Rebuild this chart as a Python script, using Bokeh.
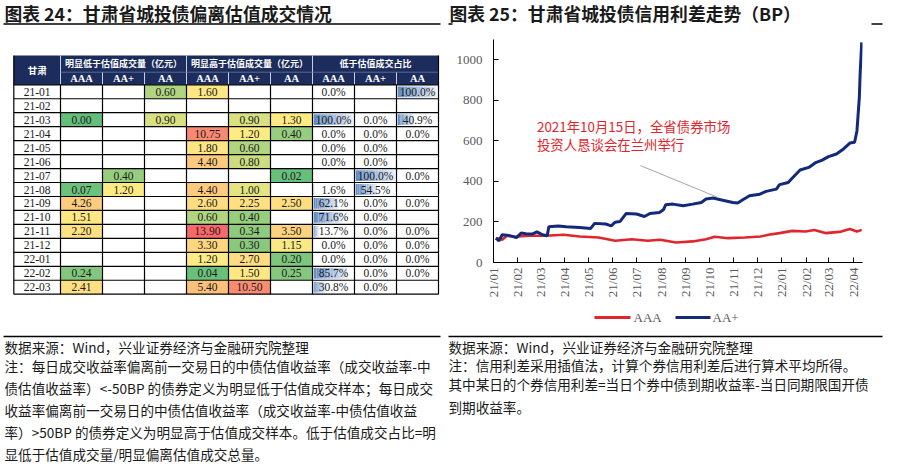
import numpy as np
import pandas as pd
from bokeh.plotting import figure
from bokeh.models import Range1d, FixedTicker, DatetimeTickFormatter, ColumnDataSource
from bokeh.layouts import row, column
from bokeh.embed import file_html
from bokeh.resources import INLINE
from bokeh.core.properties import value

# ---------------- data: table (chart 24) ----------------
months = ["21-01", "21-02", "21-03", "21-04", "21-05", "21-06", "21-07", "21-08",
          "21-09", "21-10", "21-11", "21-12", "22-01", "22-02", "22-03"]
low_AAA = [None, None, 0.00, None, None, None, None, 0.07, 4.26, 1.51, 2.20, None, None, 0.24, 2.41]
low_AAp = [None, None, None, None, None, None, 0.40, 1.20, None, None, None, None, None, None, None]
low_AA = [0.60, None, 0.90, None, None, None, None, None, None, None, None, None, None, None, None]
high_AAA = [1.60, None, None, 10.75, 1.80, 4.40, None, 4.40, 2.60, 0.60, 13.90, 3.30, 1.20, 0.04, 5.40]
high_AAp = [None, None, 0.90, 1.20, 0.60, 0.80, None, 1.00, 2.25, 0.40, 0.34, 0.30, 2.70, 1.50, 10.50]
high_AA = [None, None, 1.30, 0.40, None, None, 0.02, None, 2.50, None, 3.50, 1.15, 0.20, 0.25, None]
pct_AAA = [0.0, None, 100.0, 0.0, 0.0, 0.0, None, 1.6, 62.1, 71.6, 13.7, 0.0, 0.0, 85.7, 30.8]
pct_AAp = [None, None, 0.0, 0.0, 0.0, 0.0, 100.0, 54.5, 0.0, 0.0, 0.0, 0.0, 0.0, 0.0, 0.0]
pct_AA = [100.0, None, 40.9, 0.0, None, None, 0.0, None, 0.0, None, 0.0, 0.0, 0.0, 0.0, None]
corner_label = "甘肃"
group_titles = ["明显低于估值成交量（亿元）", "明显高于估值成交量（亿元）", "低于估值成交占比"]
grades = ["AAA", "AA+", "AA"]

# ---------------- data: spread lines (chart 25) ----------------
aaa_dates = ["2021-01-04", "2021-01-08", "2021-01-12", "2021-01-18", "2021-01-28", "2021-02-15",
             "2021-03-08", "2021-03-31", "2021-04-20", "2021-05-14", "2021-06-04", "2021-06-25",
             "2021-07-15", "2021-07-31", "2021-08-20", "2021-09-10", "2021-09-27", "2021-10-08",
             "2021-10-25", "2021-11-15", "2021-12-05", "2021-12-15", "2021-12-29", "2022-01-14",
             "2022-01-31", "2022-02-11", "2022-02-25", "2022-03-15", "2022-03-28", "2022-04-06",
             "2022-04-12"]
aaa_vals = [120, 118, 112, 132, 127, 132, 132, 137, 128, 123, 107, 115, 107, 112, 99, 104, 115,
            127, 120, 123, 128, 137, 145, 156, 153, 160, 145, 151, 165, 153, 161]
aap_dates = ["2021-01-04", "2021-01-08", "2021-01-12", "2021-01-18", "2021-01-24", "2021-01-30",
             "2021-02-05", "2021-02-11", "2021-02-19", "2021-02-25", "2021-03-04", "2021-03-10",
             "2021-03-12", "2021-03-24", "2021-04-03", "2021-04-20", "2021-05-04", "2021-05-09",
             "2021-05-23", "2021-05-30", "2021-06-04", "2021-06-10", "2021-06-18", "2021-07-01",
             "2021-07-11", "2021-07-18", "2021-07-30", "2021-08-04", "2021-08-07", "2021-08-16",
             "2021-08-29", "2021-09-10", "2021-09-21", "2021-09-27", "2021-10-06", "2021-10-18",
             "2021-10-31", "2021-11-06", "2021-11-12", "2021-11-21", "2021-12-04", "2021-12-12",
             "2021-12-25", "2021-12-29", "2022-01-09", "2022-01-13", "2022-01-24", "2022-02-04",
             "2022-02-12", "2022-02-21", "2022-03-01", "2022-03-11", "2022-03-20", "2022-03-28",
             "2022-04-03", "2022-04-06", "2022-04-09", "2022-04-10", "2022-04-12"]
aap_vals = [120, 107, 137, 135, 130, 123, 145, 142, 140, 151, 137, 132, 176, 180, 176, 173, 168,
            193, 190, 181, 199, 202, 242, 239, 227, 242, 247, 260, 285, 288, 280, 288, 296, 313,
            318, 307, 296, 293, 308, 329, 337, 351, 362, 384, 395, 412, 456, 469, 491, 505, 522,
            535, 560, 589, 593, 650, 815, 930, 1086]
series_names = ["AAA", "AA+"]
y_ticks = [0, 200, 400, 600, 800, 1000]
x_tick_start, x_tick_end = "2021-01-01", "2022-04-01"
annot_lines = ["2021年10月15日，全省债券市场", "投资人恳谈会在兰州举行"]

title_left = "图表 24：甘肃省城投债偏离估值成交情况"
title_right = "图表 25：甘肃省城投债信用利差走势（BP）"
notes_left = ["数据来源：Wind，兴业证券经济与金融研究院整理",
              "注：每日成交收益率偏离前一交易日的中债估值收益率（成交收益率-中",
              "债估值收益率）<-50BP 的债券定义为明显低于估值成交样本；每日成交",
              "收益率偏离前一交易日的中债估值收益率（成交收益率-中债估值收益",
              "率）>50BP 的债券定义为明显高于估值成交样本。低于估值成交占比=明",
              "显低于估值成交量/明显偏离估值成交总量。"]
notes_right = ["数据来源：Wind，兴业证券经济与金融研究院整理",
               "注：信用利差采用插值法，计算个券信用利差后进行算术平均所得。",
               "其中某日的个券信用利差=当日个券中债到期收益率-当日同期限国开债",
               "到期收益率。"]

# ---------------- styles ----------------
CJK = value("Noto Sans CJK SC")
SERIF = value("Liberation Serif")
INK = "#1a1a1a"
NAVY_HEAD = "#1c2c5c"
RED = "#e0262c"
NAVY = "#13297a"
GRAY = "#595959"
GREEN_C, YELLOW_C, RED_C = (99, 190, 123), (255, 235, 132), (248, 105, 107)
BAR_C = (99, 142, 198)

PAGE_W, PAGE_H = 889, 469
SPLIT_X = 447          # left / right panels
TOP_Y, BOT_Y = 39, 305  # header band / body band / footer band


def canvas(w, h, x0, x1, y0, y1):
    p = figure(width=w, height=h, x_range=Range1d(x0, x1), y_range=Range1d(y1, y0),
               output_backend="svg", toolbar_location=None, x_axis_location=None,
               y_axis_location=None, min_border=0, outline_line_color=None,
               background_fill_color="white", border_fill_color="white")
    p.grid.visible = False
    return p


def txt(p, xs, ys, texts, font, size, color=INK, align="left", bold=False):
    p.text(x=xs, y=ys, text=texts, text_font=font, text_font_size=size, text_color=color,
           text_align=align, text_baseline="middle",
           text_font_style="bold" if bold else "normal")


# ================= header band (both titles) =================
HB = canvas(PAGE_W, TOP_Y, 0, PAGE_W, 0, TOP_Y)
txt(HB, [4, 449], [12.5, 12.5], [title_left, title_right], CJK, "17.8px", bold=True)
HB.segment(x0=[3, 448, 871], y0=[23.5, 23.5, 23.5], x1=[440, 452, 882], y1=[23.5, 23.5, 23.5],
           line_color="black", line_width=1.5)

# ================= body band left: table =================
L = canvas(SPLIT_X, BOT_Y - TOP_Y, 0, SPLIT_X, TOP_Y, BOT_Y)

TL, FIRST_W, CELL_W = 13.3, 46.7, 42.0
HEAD_TOP, HEAD_MID, BODY_TOP, ROW_H = 55.0, 71.7, 84.3, 13.96
edges = [TL, TL + FIRST_W] + [TL + FIRST_W + CELL_W * (i + 1) for i in range(9)]
n_rows = len(months)
body_bot = BODY_TOP + n_rows * ROW_H
row_c = [BODY_TOP + (i + 0.5) * ROW_H for i in range(n_rows)]

L.quad(left=[edges[0]], right=[edges[-1]], top=[HEAD_TOP], bottom=[BODY_TOP],
       fill_color=NAVY_HEAD, line_color=None)
sep_x0, sep_y0, sep_x1, sep_y1 = [], [], [], []
for g in range(3):
    xg = edges[1 + 3 * g]
    sep_x0.append(xg); sep_x1.append(xg); sep_y0.append(HEAD_TOP); sep_y1.append(BODY_TOP)
    for s in range(1, 3):
        xs = edges[1 + 3 * g + s]
        sep_x0.append(xs); sep_x1.append(xs); sep_y0.append(HEAD_MID); sep_y1.append(BODY_TOP)
L.segment(x0=sep_x0, y0=sep_y0, x1=sep_x1, y1=sep_y1, line_color="#c8d0e0", line_width=1)
L.segment(x0=[edges[1]], y0=[HEAD_MID], x1=[edges[-1]], y1=[HEAD_MID], line_color="#6a7aa0",
          line_width=0.8)
txt(L, [(edges[0] + edges[1]) / 2], [(HEAD_TOP + BODY_TOP) / 2], [corner_label], CJK, "9.5px",
    color="white", align="center", bold=True)
txt(L, [(edges[1 + 3 * g] + edges[4 + 3 * g]) / 2 for g in range(3)],
    [(HEAD_TOP + HEAD_MID) / 2] * 3, group_titles, CJK, "9px", color="white", align="center",
    bold=True)
txt(L, [(edges[1 + k] + edges[2 + k]) / 2 for k in range(9)], [(HEAD_MID + BODY_TOP) / 2] * 9,
    grades * 3, SERIF, "10.5px", color="white", align="center", bold=True)

value_cols = [low_AAA, low_AAp, low_AA, high_AAA, high_AAp, high_AA]
all_vals = [v for col in value_cols for v in col if v is not None]
vmin, vmid, vmax = min(all_vals), float(np.percentile(all_vals, 50)), max(all_vals)


def mix(a, b, t):
    return "#%02x%02x%02x" % tuple(int(round(a[k] + (b[k] - a[k]) * t)) for k in range(3))


def heat(v):
    if v <= vmid:
        return mix(GREEN_C, YELLOW_C, (v - vmin) / (vmid - vmin))
    return mix(YELLOW_C, RED_C, (v - vmid) / (vmax - vmid))


hx, hy, hc, ht = [], [], [], []
for j, col in enumerate(value_cols):
    for i, v in enumerate(col):
        if v is None:
            continue
        hx.append((edges[1 + j] + edges[2 + j]) / 2); hy.append(row_c[i])
        hc.append(heat(v)); ht.append("%.2f" % v)
L.rect(x=hx, y=hy, width=CELL_W, height=ROW_H, fill_color=hc, line_color=None)

pct_cols = [pct_AAA, pct_AAp, pct_AA]
bl, br, bt, bb, bc = [], [], [], [], []
px_, py_, pt_ = [], [], []
NSL = 12
for k, col in enumerate(pct_cols):
    j = 7 + k
    for i, v in enumerate(col):
        if v is None:
            continue
        px_.append((edges[j] + edges[j + 1]) / 2); py_.append(row_c[i]); pt_.append("%.1f%%" % v)
        w = v / 100.0 * (CELL_W - 3)
        if w <= 0:
            continue
        left = edges[j] + 1.2
        for s in range(NSL):
            bl.append(left + w * s / NSL); br.append(left + w * (s + 1) / NSL)
            bt.append(row_c[i] - ROW_H / 2 + 1.6); bb.append(row_c[i] + ROW_H / 2 - 1.6)
            bc.append(mix(BAR_C, (240, 244, 251), 0.9 * s / (NSL - 1)))
L.quad(left=bl, right=br, top=bt, bottom=bb, fill_color=bc, line_color=None)

gx0, gy0, gx1, gy1 = [], [], [], []
for i in range(n_rows + 1):
    y = BODY_TOP + i * ROW_H
    gx0.append(edges[0]); gx1.append(edges[-1]); gy0.append(y); gy1.append(y)
for k, xe in enumerate(edges):
    top = HEAD_TOP if k in (0, len(edges) - 1) else BODY_TOP
    gx0.append(xe); gx1.append(xe); gy0.append(top); gy1.append(body_bot)
L.segment(x0=gx0, y0=gy0, x1=gx1, y1=gy1, line_color="black", line_width=1.2)

txt(L, [(edges[0] + edges[1]) / 2] * n_rows, row_c, months, SERIF, "11.5px", align="center")
txt(L, hx, hy, ht, SERIF, "11.5px", align="center")
txt(L, px_, py_, pt_, SERIF, "11.5px", align="center")

# ================= body band right: chart =================
C_W = PAGE_W - SPLIT_X
FR_L, FR_R = 46, 27
FR_B = int(round(BOT_Y - 261.7))
C = figure(width=C_W, height=BOT_Y - TOP_Y, x_axis_type="datetime",
           x_range=Range1d(pd.Timestamp("2021-01-01"), pd.Timestamp("2022-04-13")),
           y_range=Range1d(0, 1100), output_backend="svg", toolbar_location=None,
           min_border_left=FR_L, min_border_right=FR_R, min_border_top=0,
           min_border_bottom=FR_B, outline_line_color=None, background_fill_color="white",
           border_fill_color="white")
C.grid.visible = False

src_aaa = ColumnDataSource(dict(x=pd.to_datetime(aaa_dates), y=aaa_vals))
src_aap = ColumnDataSource(dict(x=pd.to_datetime(aap_dates), y=aap_vals))
C.line("x", "y", source=src_aaa, line_color=RED, line_width=2.6)
C.line("x", "y", source=src_aap, line_color=NAVY, line_width=3)

month_ticks = [t.value / 1e6 for t in pd.date_range(x_tick_start, x_tick_end, freq="MS")]
C.xaxis.ticker = FixedTicker(ticks=month_ticks)
C.xaxis.formatter = DatetimeTickFormatter(days="%y/%m", months="%y/%m", years="%y/%m")
C.xaxis.major_label_orientation = np.pi / 2
C.yaxis.ticker = FixedTicker(ticks=y_ticks)
for ax in (C.xaxis[0], C.yaxis[0]):
    ax.axis_line_color = "black"
    ax.axis_line_width = 1
    ax.major_tick_line_color = "black"
    ax.major_tick_in = 5
    ax.major_tick_out = 0
    ax.minor_tick_line_color = None
    ax.major_label_text_font = "Liberation Serif"
    ax.major_label_text_font_size = "13px"
    ax.major_label_text_color = GRAY
C.yaxis.major_label_standoff = 11
C.xaxis.major_label_standoff = 5

C.segment(x0=[pd.Timestamp("2021-07-06")], y0=[478], x1=[pd.Timestamp("2021-10-12")], y1=[321],
          line_color="#a6a6a6", line_width=1)
txt(C, [pd.Timestamp("2021-02-25")] * 2, [673, 585], annot_lines, CJK, "13.4px", color="#e5232b")

# ================= footer band: legend + notes =================
FB = canvas(PAGE_W, PAGE_H - BOT_Y, 0, PAGE_W, BOT_Y, PAGE_H)
FB.segment(x0=[594, 675], y0=[317, 317], x1=[630, 710], y1=[317, 317],
           line_color=[RED, NAVY], line_width=3)
txt(FB, [633, 712], [317, 317], series_names, SERIF, "13px", color=GRAY)
FB.segment(x0=[3, 448], y0=[336, 336], x1=[440, 882], y1=[336, 336],
           line_color="black", line_width=1.5)
txt(FB, [4] * len(notes_left), [346, 365, 387, 409, 431, 453], notes_left, CJK, "13.6px")
txt(FB, [448] * len(notes_right), [346, 364, 383, 406], notes_right, CJK, "13.6px")

layout = column(HB, row(L, column(C), spacing=0), FB, spacing=0)
open("out.html", "w").write(file_html(layout, INLINE))
